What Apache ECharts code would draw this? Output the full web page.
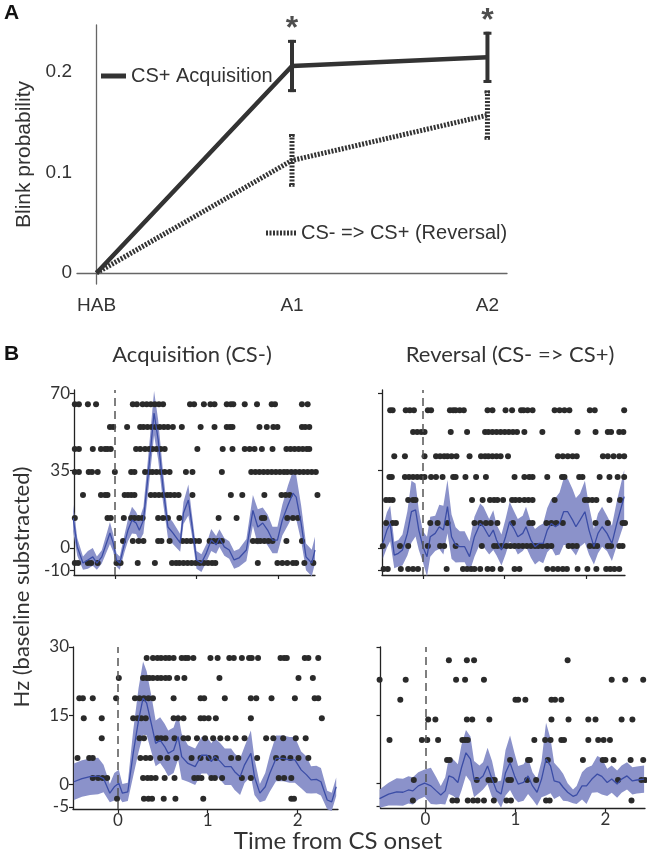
<!DOCTYPE html>
<html><head><meta charset="utf-8">
<script src="https://cdn.jsdelivr.net/npm/echarts@6/dist/echarts.min.js"></script>
<style>html,body{margin:0;padding:0;background:#fff}#c{width:647px;height:853px}</style>
</head><body><div id="c"></div><script>
// ---------- Panel A ----------
const stages = ['HAB', 'A1', 'A2'];
const acqMean = [0, 0.206, 0.2146];
const acqErr = [0, 0.0245, 0.024];
const revMean = [0, 0.112, 0.157];
const revErr = [0, 0.0247, 0.023];
const acqSig = [false, true, true];
const aYTicks = [0, 0.1, 0.2];

// ---------- Panel B: PSTH (time s, mean Hz, half-width of band) ----------
const tlT = [-0.51,-0.46,-0.39,-0.33,-0.27,-0.22,-0.16,-0.06,-0.02,0.02,0.06,0.12,0.16,0.21,0.26,0.30,0.35,0.41,0.48,0.53,0.59,0.65,0.71,0.80,0.84,0.90,0.94,1.00,1.06,1.12,1.18,1.24,1.28,1.34,1.40,1.46,1.52,1.61,1.69,1.75,1.81,1.87,1.93,1.99,2.05,2.12,2.18,2.22,2.28,2.34,2.41,2.45];
const tlMean = [13.5,0.5,-6.8,-5.4,-4,-6.8,-4,6.8,2.3,-5.4,-6.8,2.3,8,12.6,11.3,8,12.6,34,61,49,27.5,9.5,6.8,2.3,15.8,21.7,11.3,-5.4,-6.8,-2.3,3.6,1.4,4.5,0.5,-0.9,-5.4,-4.5,-0.9,17,9.5,11.3,8.1,3.6,3.6,12.6,19.4,24.8,23,11.3,-4,-6.8,-0.9];
const tlSem = [6,4,3,4,4,3,3,5,4,3,3,4,5,6,5,5,6,8,10,9,7,5,5,4,5,7,5,4,4,4,5,4,4,4,4,4,4,5,7,8,7,7,6,6,7,9,10,10,8,6,6,6];

const trT = [-0.49,-0.44,-0.40,-0.35,-0.30,-0.25,-0.19,-0.14,-0.09,-0.05,0.00,0.05,0.09,0.15,0.20,0.25,0.30,0.35,0.40,0.45,0.51,0.57,0.63,0.70,0.74,0.81,0.86,0.90,0.96,1.01,1.06,1.11,1.16,1.22,1.26,1.32,1.37,1.42,1.47,1.52,1.57,1.62,1.67,1.72,1.77,1.83,1.87,1.92,1.98,2.03,2.09,2.14,2.19,2.25,2.31,2.37,2.46];
const trMean = [2.1,8.1,11.1,-3.2,-2.4,-0.9,6.6,16.4,17.2,8.1,0.6,-3.9,5.1,6.6,9.6,8.1,18.7,5.1,1.4,0.6,0.6,-3.9,5.1,11.1,9.6,5.1,8.1,3.6,-0.9,5.1,11.9,8.9,5.1,6.6,9.6,3.6,0.6,2.1,2.1,8.1,11.1,9.6,11.1,16.4,16.4,12.6,9.6,12.6,16.4,8.1,0.6,6.6,9.6,6.6,2.1,11.1,23.2];
const trSem = [7,8,8,6,6,7,10,14,12,9,7,9,9,8,10,11,12,10,8,7,7,7,9,9,9,8,9,7,7,8,9,8,8,8,9,8,8,8,9,10,11,13,14,15,15,14,13,12,14,11,8,9,9,8,8,10,12];

const blT = [-0.49,-0.40,-0.31,-0.22,-0.16,-0.09,-0.04,0.01,0.05,0.11,0.17,0.23,0.28,0.32,0.38,0.42,0.47,0.52,0.56,0.62,0.67,0.71,0.78,0.86,0.93,0.99,1.04,1.08,1.14,1.19,1.26,1.30,1.36,1.41,1.48,1.52,1.58,1.64,1.69,1.76,1.84,1.91,1.97,2.04,2.10,2.15,2.21,2.26,2.33,2.38,2.43];
const blMean = [0.5,1.2,1.6,1.75,1.2,-2.0,-0.6,0.15,-2.0,-1.7,6.7,14,18.8,17.7,12.5,8.9,9.6,8.2,6.7,7.4,10.4,6.0,4.5,3.8,6.3,6.3,4.9,6.0,4.9,3.8,3.8,2.7,1.6,4.2,6.7,1.6,-2.0,-0.6,2.3,5.6,5.6,5.3,5.3,3.1,2.0,0.9,1.0,0.5,-3.5,-3.9,-0.6];
const blSem = [4,4,4,4,3,2,3,3,2,2,5,7,8,7,6,5,5,5,5,5,5,5,4,4,4,4,4,4,4,4,4,4,4,4,5,4,2,3,4,5,5,5,5,4,4,3,3,3,2,2,2];

const brT = [-0.51,-0.41,-0.32,-0.25,-0.19,-0.14,-0.08,-0.01,0.06,0.12,0.17,0.22,0.26,0.31,0.36,0.40,0.45,0.50,0.54,0.60,0.64,0.69,0.74,0.79,0.84,0.89,0.94,0.99,1.03,1.09,1.14,1.19,1.24,1.29,1.34,1.39,1.43,1.49,1.53,1.58,1.64,1.68,1.74,1.79,1.85,1.91,1.96,2.02,2.07,2.13,2.18,2.24,2.30,2.35,2.43];
const brMean = [-3.4,-2.4,-1.9,-2.0,-1.5,-1.7,-0.6,0,-0.6,-1.7,-2.6,-1.7,1.6,1.2,0.15,3.4,6.7,5.3,0.9,0.9,1.6,3.8,0.9,-1.7,-2.4,2.3,4.5,1.6,-0.2,0.15,1.6,-0.6,-2.0,0.9,5.3,3.8,0.5,0.15,-0.9,-2.0,-2.9,-2.6,-0.6,-0.6,0.9,2.0,1.5,0.15,0.9,-0.2,0.9,1.6,0.5,0.7,0.9];
const brSem = [2,2.5,3,3,3,3,3,3,4,3,2,3,4,4,4,5,5,5,4,3,3,4,4,2,3,5,6,5,4,4,4,3,3,4,8,6,4,3,3,2,1.5,2,3,4,3,4,4,3,3,3,3,3,3,3,3];

// ---------- Panel B: raster rows (spike times in s), row heights in Hz units ----------
const tlRowY = [65, 54.7, 44.7, 34.3, 23.9, 13.6, 3.2, -6.8];
const tlRows = [
 [-0.49,-0.44,-0.33,-0.23,0.22,0.27,0.34,0.39,0.44,0.49,0.54,0.59,0.92,0.97,1.09,1.17,1.22,1.37,1.42,1.45,1.59,1.74,1.92,1.96,2.29,2.36],
 [-0.06,-0.02,0.15,0.31,0.35,0.40,0.45,0.50,0.55,0.60,0.65,0.71,0.82,1.05,1.22,1.37,1.41,1.44,1.77,1.86,1.94,1.99,2.29,2.33,2.38],
 [-0.49,-0.44,-0.27,-0.17,-0.12,-0.09,-0.05,0.26,0.31,0.37,0.42,0.46,0.51,0.56,0.61,1.01,1.32,1.44,1.59,1.65,1.71,1.80,1.93,2.10,2.15,2.20,2.25,2.30,2.35,2.38],
 [-0.49,-0.44,-0.32,-0.28,-0.21,0,0.20,0.24,0.37,0.42,0.46,0.51,0.56,0.61,0.67,0.87,0.95,1.31,1.67,1.72,1.77,1.82,1.87,1.92,1.97,2.02,2.07,2.11,2.16,2.21,2.26,2.31,2.36,2.41,2.46],
 [-0.39,-0.17,-0.12,-0.09,0.12,0.16,0.20,0.24,0.44,0.49,0.54,0.59,0.64,0.68,0.73,0.78,0.95,1.42,1.56,1.83,2.04,2.09,2.14,2.48],
 [-0.49,-0.09,-0.05,0.11,0.20,0.24,0.29,0.34,0.53,0.59,0.65,0.79,1.27,1.49,1.80,1.83,2.11,2.18,2.24],
 [0.10,0.22,0.29,0.35,0.53,0.57,0.67,0.83,0.88,0.93,0.98,1.03,1.16,1.21,1.26,1.31,1.69,1.74,1.78,1.83,1.88,1.93,2.10,2.29],
 [-0.49,-0.45,-0.33,-0.29,-0.21,0.02,0.07,0.28,0.49,0.70,0.75,0.79,0.84,0.89,0.94,0.99,1.04,1.09,1.14,1.19,1.23,1.75,1.99,2.05,2.11,2.18,2.22,2.32,2.43]
];
const trRowY = [62.3, 52.4, 41.5, 32.1, 21.7, 11.3, 0.9, -9.5];
const trRows = [
 [-0.40,-0.37,-0.21,-0.16,-0.11,0.06,0.10,0.33,0.37,0.40,0.45,0.50,0.79,0.85,1.01,1.09,1.20,1.23,1.28,1.34,1.61,1.67,1.73,1.79,2.04,2.10,2.46],
 [-0.12,-0.07,-0.02,0.02,0.34,0.54,0.76,0.80,0.85,0.90,0.95,1.00,1.05,1.10,1.15,1.24,1.46,1.89,2.11,2.26,2.30,2.40,2.45],
 [-0.35,-0.22,0.02,0.16,0.21,0.26,0.30,0.35,0.41,0.57,0.71,0.76,0.80,0.85,0.90,0.95,1.04,1.65,1.71,1.77,1.83,1.88,2.20,2.26,2.33,2.40,2.46],
 [-0.41,-0.38,-0.22,-0.17,-0.12,-0.07,-0.02,0.02,0.10,0.16,0.24,0.37,0.40,0.52,0.65,0.77,1.12,1.24,1.30,1.34,1.52,1.70,1.73,1.91,1.95,2.16,2.28,2.38,2.46],
 [-0.45,-0.41,-0.37,-0.18,-0.12,-0.09,0.60,0.73,0.82,0.87,0.91,0.98,1.09,1.13,1.18,1.24,1.29,1.34,1.61,1.98,2.02,2.07,2.12,2.28,2.41],
 [-0.45,-0.37,-0.33,0.09,0.18,0.30,0.63,0.70,0.77,0.83,0.91,1.10,1.30,1.34,1.51,1.57,1.63,1.71,2.11,2.26,2.44,2.47],
 [-0.49,-0.28,-0.18,0.06,0.21,0.26,0.40,0.72,0.87,0.91,0.96,1.02,1.07,1.12,1.17,1.22,1.27,1.32,1.37,1.41,1.46,1.52,1.57,1.78,1.83,1.88,2.04,2.09,2.13,2.26,2.30,2.40,2.44],
 [-0.48,-0.43,-0.27,-0.18,-0.12,-0.06,0.29,0.49,0.54,0.59,0.63,0.70,0.79,0.85,0.95,1.12,1.18,1.52,1.59,1.65,1.71,1.76,1.89,2.01,2.12,2.24,2.29,2.34,2.40]
];
const blRowY = [27.6, 23.2, 18.8, 14.4, 10.0, 5.7, 1.3, -3.2];
const blRows = [
 [0.32,0.39,0.44,0.48,0.53,0.57,0.62,0.71,0.75,0.78,0.84,1.03,1.11,1.24,1.29,1.38,1.46,1.49,1.56,1.81,1.85,1.88,2.08,2.12,2.23],
 [0.01,0.28,0.32,0.35,0.39,0.44,0.48,0.53,0.57,0.66,0.74,1.13,2.01,2.17],
 [-0.43,-0.39,-0.28,-0.02,0.19,0.24,0.29,0.34,0.39,0.62,0.92,0.96,1.19,1.48,1.54,1.71,1.97,2.19,2.23],
 [-0.38,-0.18,0.17,0.22,0.26,0.31,0.62,0.67,0.73,0.92,0.96,1.01,1.09,1.48,2.27],
 [-0.18,0.24,0.29,0.44,0.48,0.53,0.63,0.73,0.78,0.88,0.97,1.06,1.14,1.22,1.31,1.41,1.65,1.73,1.84,1.98,2.09],
 [-0.45,-0.32,-0.28,0.25,0.31,0.36,0.47,0.55,0.65,0.82,0.92,1.01,1.09,1.26,1.34,1.55,1.76,1.84,1.92,2.01,2.12],
 [-0.28,-0.22,-0.17,-0.12,0.28,0.33,0.37,0.42,0.52,0.63,0.85,0.89,0.93,1.04,1.08,1.16,1.38,1.48,1.79,1.85,1.93],
 [-0.01,0.29,0.34,0.38,0.51,0.64,0.95,1.93,1.96]
];
const brRowY = [27.1, 22.8, 18.4, 14.0, 9.5, 5.1, 0.7, -3.8];
const brRows = [
 [0.26,0.46,0.54,1.58],
 [-0.51,-0.22,0.34,0.44,0.65,2.07,2.22,2.42],
 [-0.28,1.00,1.03,1.11,1.40,1.44,1.51],
 [0.03,0.11,0.46,0.52,0.71,1.40,1.59,1.81,1.89,2.18,2.30],
 [-0.40,-0.04,0.02,0.14,0.41,0.44,0.47,1.21,1.33,1.39,1.51,1.54,1.81,1.92,1.98,2.05],
 [0.24,0.27,0.94,1.14,1.16,1.36,1.75,1.97,2.00,2.09,2.28,2.42],
 [-0.13,0.57,0.70,0.74,0.77,0.92,0.95,1.13,1.23,2.14,2.40,2.44],
 [-0.14,0.30,0.35,0.47,0.53,0.58,0.65,0.76,0.90,0.95,1.34,1.38,2.29]
];
const topYTicks = [-10, 0, 35, 70];
const botYTicks = [-5, 0, 15, 30];
const timeTicks = [0, 1, 2];

// ---------- build ----------
const chart = echarts.init(document.getElementById('c'), null, {renderer: 'canvas'});
const fA = 'Liberation Sans, Arial, sans-serif';
const fB = 'Lato, Calibri, sans-serif';
const dark = '#333';

const grids = [
  {left: 77, top: 25, width: 430, height: 259},
  {left: 74, top: 390, width: 241, height: 185},
  {left: 382, top: 390, width: 243, height: 185},
  {left: 73, top: 647, width: 265, height: 162},
  {left: 380.5, top: 647, width: 264.5, height: 161}
];

const xAxes = [
  {gridIndex: 0, type: 'value', min: -0.1, max: 2.1, splitLine: {show: false},
   axisLine: {lineStyle: {color: '#666', width: 1.3}}, axisTick: {show: false},
   axisLabel: {customValues: [0, 1, 2], formatter: v => stages[Math.round(v)], fontFamily: fA, fontSize: 19, color: dark, margin: 12}}
];
const yAxes = [
  {gridIndex: 0, type: 'value', min: -0.011, max: 0.2468, splitLine: {show: false},
   axisLine: {show: true, lineStyle: {color: '#666', width: 1.3}}, axisTick: {show: false},
   axisLabel: {customValues: aYTicks, formatter: v => (v === 0 ? '0' : v.toFixed(1)), fontFamily: fA, fontSize: 19, color: dark, margin: 5},
   name: 'Blink probability', nameLocation: 'middle', nameGap: 31, nameTextStyle: {fontFamily: fA, fontSize: 21, color: dark}}
];
const bx = [[-0.5, 2.45], [-0.5, 2.47], [-0.5, 2.45], [-0.5, 2.44]];
const by = [[-12.2, 71.4], [-12.2, 71.4], [-5.47, 30], [-5.47, 30]];
for (let i = 0; i < 4; i++) {
  const bottomRow = i >= 2;
  xAxes.push({gridIndex: i + 1, type: 'value', min: bx[i][0], max: bx[i][1], splitLine: {show: false},
    axisLine: {onZero: false, lineStyle: {color: '#222', width: 1.3}},
    axisTick: {customValues: timeTicks, length: 4, lineStyle: {color: '#222', width: 1.2}},
    axisLabel: {show: bottomRow, customValues: timeTicks, fontFamily: fB, fontSize: 17, color: dark, margin: 3}});
  const left = (i % 2 === 0);
  const yt = bottomRow ? botYTicks : topYTicks;
  yAxes.push({gridIndex: i + 1, type: 'value', min: by[i][0], max: by[i][1], splitLine: {show: false},
    axisLine: {show: true, onZero: false, lineStyle: {color: '#222', width: 1.3}},
    axisTick: {show: true, customValues: yt, length: 4, lineStyle: {color: '#222', width: 1.2}},
    axisLabel: {show: left, customValues: yt, fontFamily: fB, fontSize: 17, color: dark, margin: 4}});
}

function errSeries(name, means, errs, dashed) {
  return {
    type: 'custom', name: name + ' err', xAxisIndex: 0, yAxisIndex: 0, z: 4, silent: true,
    data: means.map((m, i) => [i, m, errs[i]]),
    renderItem: (params, api) => {
      const x = api.value(0), m = api.value(1), e = api.value(2);
      if (!e) return null;
      const t = api.coord([x, m + e]), b = api.coord([x, m - e]);
      const cw = dashed ? 3 : 4;
      const dash = dashed ? [2, 1.5] : null;
      const st = {stroke: '#333', lineWidth: dashed ? 5 : 4, lineDash: dash};
      const cs = {stroke: '#333', lineWidth: 3, lineDash: dash};
      return {type: 'group', children: [
        {type: 'line', shape: {x1: t[0], y1: t[1] - 1.5, x2: b[0], y2: b[1] + 1.5}, style: st},
        {type: 'line', shape: {x1: t[0] - cw, y1: t[1], x2: t[0] + cw, y2: t[1]}, style: cs},
        {type: 'line', shape: {x1: b[0] - cw, y1: b[1], x2: b[0] + cw, y2: b[1]}, style: cs}
      ]};
    }
  };
}

// legend sample icons: solid bar and a striped (dotted) bar
let stripes = 'path://';
for (let i = 0; i < 9; i++) stripes += 'M' + (i * 3.5) + ',0h2v5h-2z';

const series = [
  {type: 'line', name: 'CS+ Acquisition', xAxisIndex: 0, yAxisIndex: 0, z: 5,
   data: acqMean.map((m, i) => [i, m]), showSymbol: false, symbol: 'none',
   lineStyle: {color: '#333', width: 4.5}, itemStyle: {color: '#333'}},
  {type: 'line', name: 'CS- => CS+ (Reversal)', xAxisIndex: 0, yAxisIndex: 0, z: 3,
   data: revMean.map((m, i) => [i, m]), showSymbol: false, symbol: 'none',
   lineStyle: {color: '#333', width: 5, type: [2, 1.5]}, itemStyle: {color: '#333'}},
  errSeries('acq', acqMean, acqErr, false),
  errSeries('rev', revMean, revErr, true),
  {type: 'scatter', name: 'sig', xAxisIndex: 0, yAxisIndex: 0, clip: false, silent: true, symbolSize: 0,
   data: acqMean.map((m, i) => acqSig[i] ? [i, m + acqErr[i]] : null).filter(d => d),
   label: {show: true, formatter: '*', position: 'top', distance: -4, fontFamily: fA, fontWeight: 'bold', fontSize: 32, color: '#222'}}
];

const panels = [
  [tlT, tlMean, tlSem, tlRows, tlRowY],
  [trT, trMean, trSem, trRows, trRowY],
  [blT, blMean, blSem, blRows, blRowY],
  [brT, brMean, brSem, brRows, brRowY]
];
panels.forEach((p, k) => {
  const gi = k + 1;
  const [ts, ms, ss, rows, rowY] = p;
  series.push({
    type: 'custom', name: 'band' + k, xAxisIndex: gi, yAxisIndex: gi, z: 1, silent: true, clip: false,
    data: ts.map((t, i) => [t, ms[i], ss[i]]),
    renderItem: (params, api) => {
      if (params.dataIndex !== 0) return null;
      const up = [], lo = [];
      for (let i = 0; i < ts.length; i++) {
        up.push(api.coord([ts[i], ms[i] + ss[i]]));
        lo.push(api.coord([ts[i], ms[i] - ss[i]]));
      }
      return {type: 'polygon', shape: {points: up.concat(lo.reverse())}, style: {fill: '#8b92ca'}};
    }
  });
  const dots = [];
  rows.forEach((r, j) => r.forEach(t => dots.push([t, rowY[j]])));
  series.push({type: 'scatter', name: 'raster' + k, xAxisIndex: gi, yAxisIndex: gi, z: 2, clip: false, silent: true,
    data: dots, symbolSize: 6, itemStyle: {color: '#2a2a2a', opacity: 1}});
  series.push({type: 'line', name: 'mean' + k, xAxisIndex: gi, yAxisIndex: gi, z: 3, silent: true,
    data: ts.map((t, i) => [t, ms[i]]), showSymbol: false, symbol: 'none',
    lineStyle: {color: '#3b4da6', width: 1.3},
    markLine: {silent: true, symbol: 'none', label: {show: false},
      lineStyle: {color: '#555', type: [8, 5], width: 1.5}, data: [{xAxis: 0}]}});
});

const option = {
  animation: false,
  backgroundColor: '#fff',
  grid: grids,
  xAxis: xAxes,
  yAxis: yAxes,
  legend: [
    {data: [{name: 'CS+ Acquisition', icon: 'rect'}], left: 101, top: 66, padding: 0, itemWidth: 25, itemHeight: 5,
     symbolKeepAspect: false, selectedMode: false, itemStyle: {color: '#333'},
     textStyle: {fontFamily: fA, fontSize: 20, color: dark}},
    {data: [{name: 'CS- => CS+ (Reversal)', icon: stripes}], left: 266, top: 223, padding: 0, itemWidth: 30, itemHeight: 5,
     symbolKeepAspect: false, selectedMode: false, itemStyle: {color: '#333'},
     textStyle: {fontFamily: fA, fontSize: 20, color: dark}}
  ],
  graphic: [
    {type: 'text', left: 4, top: 3, style: {text: 'A', font: 'bold 21px ' + fA, fill: '#111'}},
    {type: 'text', left: 4, top: 344, style: {text: 'B', font: 'bold 21px ' + fA, fill: '#111'}},
    {type: 'text', x: 192, y: 355, style: {text: 'Acquisition (CS-)', font: '22px ' + fB, fill: dark, textAlign: 'center', textVerticalAlign: 'middle'}},
    {type: 'text', x: 510, y: 355, style: {text: 'Reversal (CS- => CS+)', font: '22px ' + fB, fill: dark, textAlign: 'center', textVerticalAlign: 'middle'}},
    {type: 'text', x: 338, y: 841, style: {text: 'Time from CS onset', font: '24px ' + fB, fill: dark, textAlign: 'center', textVerticalAlign: 'middle'}},
    {type: 'text', x: 22, y: 587, rotation: Math.PI / 2, style: {text: 'Hz (baseline substracted)', font: '22px ' + fB, fill: dark, textAlign: 'center', textVerticalAlign: 'middle'}}
  ],
  series: series
};
chart.setOption(option);
</script></body></html>
